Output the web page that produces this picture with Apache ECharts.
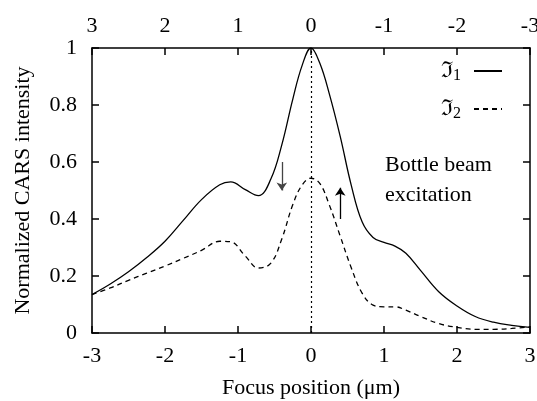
<!DOCTYPE html>
<html>
<head>
<meta charset="utf-8">
<script src="https://cdn.jsdelivr.net/npm/echarts@6/dist/echarts.min.js"></script>
<style>
  html, body { margin: 0; padding: 0; background: #fff; }
  #chart { width: 537px; height: 401px; }
</style>
</head>
<body>
<div id="chart"></div>
<script>
// focus positions (um) and normalized intensities
const focusPos = [-3, -2.75, -2.5, -2.25, -2, -1.75, -1.5, -1.25, -1.1, -0.9, -0.72, -0.55, -0.4, -0.25, -0.12, 0,
  0.12, 0.25, 0.4, 0.55, 0.7, 0.85, 1.0, 1.15, 1.3, 1.5, 1.75, 2.0, 2.25, 2.5, 2.75, 3];
const intensity1 = [0.135, 0.172, 0.215, 0.265, 0.322, 0.395, 0.468, 0.52, 0.53, 0.503, 0.482, 0.54, 0.66, 0.82, 0.94, 1.0,
  0.947, 0.84, 0.69, 0.52, 0.39, 0.335, 0.318, 0.305, 0.28, 0.22, 0.145, 0.095, 0.058, 0.038, 0.027, 0.02];
const intensity2 = [0.135, 0.158, 0.185, 0.21, 0.235, 0.262, 0.29, 0.322, 0.32, 0.27, 0.228, 0.245, 0.33, 0.45, 0.52, 0.543,
  0.525, 0.45, 0.34, 0.23, 0.14, 0.098, 0.092, 0.092, 0.08, 0.058, 0.033, 0.02, 0.013, 0.013, 0.016, 0.022];
const seriesNames = ['ℑ1', 'ℑ2'];
// arrows: [x, yFrom, yTo]
const arrowDown = [-0.4, 0.6, 0.5];
const arrowUp = [0.4, 0.4, 0.51];

const font = '"Liberation Serif", "DejaVu Serif", serif';
const black = '#000';
const fs = 22;

function pairs(xs, ys) {
  return xs.map(function (x, i) { return [x, ys[i]]; });
}

function axisLine() {
  return { show: true, onZero: false, lineStyle: { color: black, width: 1.5 } };
}
function axisTick() {
  return { show: true, inside: true, length: 7, lineStyle: { color: black, width: 1.5 } };
}

var chart = echarts.init(document.getElementById('chart'));
chart.setOption({
  animation: false,
  backgroundColor: '#fff',
  textStyle: { fontFamily: font, color: black },
  grid: { left: 92, right: 7, top: 48, bottom: 68, containLabel: false, outerBoundsMode: 'none' },
  legend: {
    data: seriesNames,
    orient: 'vertical',
    right: 34,
    top: 60,
    padding: 0,
    align: 'right',
    itemWidth: 28,
    itemHeight: 14,
    itemGap: 14,
    itemStyle: { opacity: 0 },
    formatter: function (name) {
      return '{a|ℑ}{s|' + name.slice(1) + '}';
    },
    textStyle: {
      color: black,
      rich: {
        a: { fontFamily: font, fontSize: 22, color: black },
        s: { fontFamily: font, fontSize: 16, color: black, padding: [10, 8, 0, 0] }
      }
    }
  },
  xAxis: [
    {
      type: 'value', min: -3, max: 3, interval: 1, position: 'bottom',
      name: 'Focus position (μm)', nameLocation: 'middle', nameGap: 44,
      nameTextStyle: { fontSize: fs, fontFamily: font, color: black },
      axisLine: axisLine(), axisTick: axisTick(),
      axisLabel: { fontSize: fs, margin: 12, color: black, fontFamily: font },
      splitLine: { show: false }
    },
    {
      type: 'value', min: -3, max: 3, interval: 1, position: 'top', inverse: true,
      axisLine: axisLine(), axisTick: axisTick(),
      axisLabel: { fontSize: fs, margin: 11, color: black, fontFamily: font },
      splitLine: { show: false }
    }
  ],
  yAxis: [
    {
      type: 'value', min: 0, max: 1, interval: 0.2, position: 'left',
      name: 'Normalized CARS intensity', nameLocation: 'middle', nameGap: 58,
      nameTextStyle: { fontSize: fs, fontFamily: font, color: black },
      axisLine: axisLine(), axisTick: axisTick(),
      axisLabel: {
        fontSize: fs, margin: 15, color: black, fontFamily: font,
        formatter: function (v) { return String(+v.toFixed(1)); }
      },
      splitLine: { show: false }
    },
    {
      type: 'value', min: 0, max: 1, interval: 0.2, position: 'right',
      axisLine: axisLine(), axisTick: axisTick(),
      axisLabel: { show: false },
      splitLine: { show: false }
    }
  ],
  graphic: [
    {
      type: 'text', left: 385, top: 150,
      style: {
        text: 'Bottle beam\nexcitation', font: fs + 'px ' + font, fill: black, lineHeight: 30
      }
    }
  ],
  series: [
    {
      name: seriesNames[0], type: 'line', data: pairs(focusPos, intensity1),
      smooth: 0.4, showSymbol: false, symbol: 'none',
      lineStyle: { color: black, width: 1.3 }, itemStyle: { color: black },
      markLine: {
        silent: true, symbol: 'none', label: { show: false },
        lineStyle: { color: black, type: [2, 3], width: 1.2 },
        data: [{ xAxis: 0 }]
      }
    },
    {
      name: seriesNames[1], type: 'line', data: pairs(focusPos, intensity2),
      smooth: 0.4, showSymbol: false, symbol: 'none',
      lineStyle: { color: black, width: 1.3, type: [5, 4] }, itemStyle: { color: black }
    },
    {
      type: 'lines', coordinateSystem: 'cartesian2d', silent: true,
      symbol: ['none', 'arrow'], symbolSize: [0, 8],
      lineStyle: { color: black, width: 1.3, opacity: 1 },
      data: [
        { coords: [[arrowDown[0], arrowDown[1]], [arrowDown[0], arrowDown[2]]], lineStyle: { color: '#444' } },
        { coords: [[arrowUp[0], arrowUp[1]], [arrowUp[0], arrowUp[2]]] }
      ]
    }
  ]
});
</script>
</body>
</html>
